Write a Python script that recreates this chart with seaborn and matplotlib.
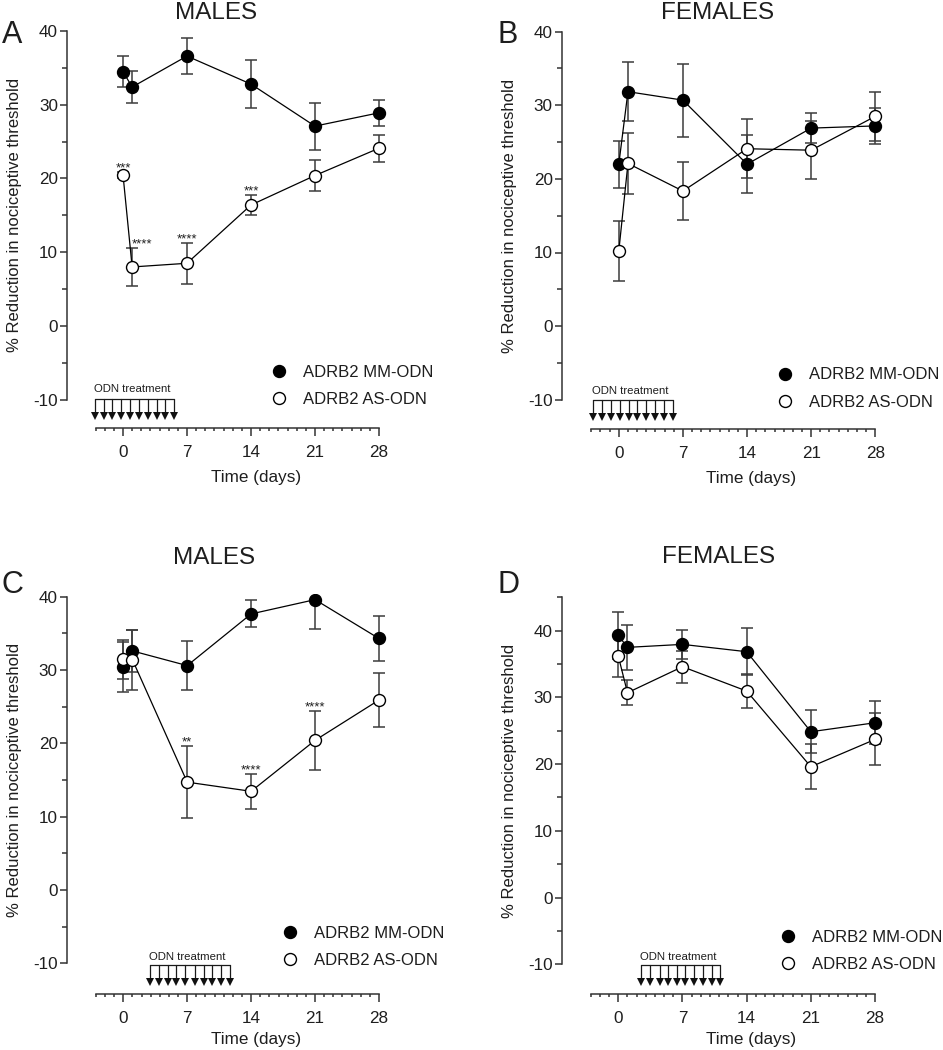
import matplotlib
matplotlib.use("Agg")
import matplotlib.pyplot as plt
import matplotlib.transforms as mtransforms
from matplotlib.lines import Line2D
from matplotlib.ticker import FixedLocator
import pandas as pd
import seaborn as sns

# ---------------- data ----------------
days = [0, 1, 7, 14, 21, 28]
groups = ["ADRB2 MM-ODN", "ADRB2 AS-ODN"]

a_mm = [34.5, 32.4, 36.6, 32.8, 27.1, 28.9]
a_mm_sem = [2.1, 2.2, 2.45, 3.2, 3.2, 1.8]
a_as = [20.5, 8.0, 8.5, 16.4, 20.4, 24.1]
a_as_sem = [0.4, 2.6, 2.8, 1.4, 2.1, 1.8]

b_mm = [22.0, 31.85, 30.7, 22.0, 26.9, 27.2]
b_mm_sem = [3.2, 4.0, 4.95, 3.9, 2.0, 2.5]
b_as = [10.2, 22.1, 18.35, 24.1, 23.9, 28.5]
b_as_sem = [4.05, 4.2, 3.9, 4.0, 3.9, 3.3]

c_mm = [30.4, 32.6, 30.6, 37.65, 39.6, 34.3]
c_mm_sem = [3.4, 2.9, 3.35, 1.85, 4.0, 3.05]
c_as = [31.45, 31.4, 14.7, 13.45, 20.4, 25.9]
c_as_sem = [2.7, 4.1, 4.95, 2.4, 4.0, 3.7]

d_mm = [39.3, 37.5, 37.95, 36.85, 24.85, 26.2]
d_mm_sem = [3.5, 3.4, 2.2, 3.5, 3.2, 3.25]
d_as = [36.2, 30.7, 34.6, 30.95, 19.6, 23.7]
d_as_sem = [3.1, 1.85, 2.4, 2.5, 3.4, 3.9]

# significance marks on AS-ODN series: (day, label)
a_stars = [(0, "***"), (1, "****"), (7, "****"), (14, "***")]
c_stars = [(7, "**"), (14, "****"), (21, "****")]

# ODN treatment injection days (arrows)
odn_a = [-3.1, -2.1, -1.2, -0.2, 0.8, 1.7, 2.7, 3.7, 4.6, 5.6]
odn_b = [-2.8, -1.8, -0.9, 0.1, 1.1, 2.0, 3.0, 4.0, 4.9, 5.9]
odn_c = [2.9, 3.9, 4.9, 5.8, 6.8, 7.8, 8.8, 9.7, 10.7, 11.7]
odn_d = [2.5, 3.5, 4.5, 5.4, 6.4, 7.3, 8.3, 9.2, 10.2, 11.1]

x_major = [0, 7, 14, 21, 28]
x_minor = list(range(-3, 29))
y_major = [-10, 0, 10, 20, 30, 40]

# ---------------- style ----------------
sns.set_theme(style="ticks")
plt.rcParams["font.family"] = ["Liberation Sans", "DejaVu Sans"]
plt.rcParams["axes.unicode_minus"] = False

W, H = 943, 1050
fig = plt.figure(figsize=(W / 100, H / 100), dpi=100)

TXT = "#1e1e1e"
SPN = "#333333"
ECOL = "#3c3c3c"


def fy(py):
    return 1 - py / H


def make_axes(left, top, right, bottom, x0, ppd, yref_px, ppu):
    ax = fig.add_axes([left / W, 1 - bottom / H, (right - left) / W, (bottom - top) / H])
    ax.set_xlim((left - x0) / ppd, (right - x0) / ppd)
    ax.set_ylim(40 - (bottom - yref_px) / ppu, 40 + (yref_px - top) / ppu)
    ax._px = (right - left, bottom - top)
    return ax


def draw_panel(ax, mm, mm_sem, as_, as_sem, ytop_spine, y_minor, xlabelpad):
    ax.errorbar(days, mm, yerr=mm_sem, fmt="none", ecolor=ECOL, elinewidth=1.1,
                capsize=4.3, capthick=1.1, zorder=2)
    ax.errorbar(days, as_, yerr=as_sem, fmt="none", ecolor=ECOL, elinewidth=1.1,
                capsize=4.3, capthick=1.1, zorder=2)
    df = pd.DataFrame({"day": days + days, "value": mm + as_,
                       "group": [groups[0]] * len(days) + [groups[1]] * len(days)})
    sns.lineplot(data=df[df.group == groups[0]], x="day", y="value", estimator=None,
                 color="black", lw=0.9, marker="o", markersize=8.6,
                 markerfacecolor="black", markeredgecolor="black", markeredgewidth=1.0,
                 ax=ax, legend=False, zorder=3)
    sns.lineplot(data=df[df.group == groups[1]], x="day", y="value", estimator=None,
                 color="black", lw=0.9, marker="o", markersize=8.6,
                 markerfacecolor="white", markeredgecolor="black", markeredgewidth=1.0,
                 ax=ax, legend=False, zorder=4)

    sns.despine(ax=ax)
    for s in ("left", "bottom"):
        ax.spines[s].set_linewidth(1.1)
        ax.spines[s].set_color(SPN)
    ax.spines["left"].set_bounds(-10, ytop_spine)
    ax.spines["bottom"].set_bounds(-3, 28)

    ax.xaxis.set_major_locator(FixedLocator(x_major))
    ax.xaxis.set_minor_locator(FixedLocator(x_minor))
    ax.yaxis.set_major_locator(FixedLocator(y_major))
    ax.yaxis.set_minor_locator(FixedLocator(y_minor))
    ax.set_xticklabels([str(v) for v in x_major])
    ax.set_yticklabels([str(v) for v in y_major])
    ax.tick_params(which="both", color=SPN, width=1.1, labelsize=12.3, labelcolor=TXT)
    ax.tick_params(axis="x", which="major", length=5.5, pad=6.5)
    ax.tick_params(axis="x", which="minor", length=2.5)
    ax.tick_params(axis="y", which="major", length=5.0, pad=1.5)
    ax.tick_params(axis="y", which="minor", length=3.6)

    ax.set_xlabel("Time (days)", fontsize=12.3, color=TXT, labelpad=xlabelpad)
    ax.set_ylabel("% Reduction in nociceptive threshold", fontsize=12, color=TXT)
    wpx, hpx = ax._px
    y0, y1 = ax.get_ylim()
    yc = ((-10 + ytop_spine) / 2 - y0) / (y1 - y0)
    ax.yaxis.set_label_coords(-45 / wpx, yc)
    ax.grid(False)


def odn_bracket(ax, xs, text_px):
    wpx, hpx = ax._px
    tr = mtransforms.blended_transform_factory(ax.transData, ax.transAxes)
    y_line = 29 / hpx
    y_tri_top = 15.5 / hpx
    y_tri = 12.3 / hpx
    ax.plot([xs[0], xs[-1]], [y_line, y_line], transform=tr, color="#1a1a1a",
            lw=0.9, clip_on=False, zorder=5)
    for x in xs:
        ax.plot([x, x], [y_line, y_tri_top], transform=tr, color="#1a1a1a",
                lw=0.9, clip_on=False, zorder=5)
    ax.plot(xs, [y_tri] * len(xs), transform=tr, ls="none", marker="v", ms=6.4,
            color="#111111", mew=0, clip_on=False, zorder=5)
    ax.text(xs[0] - 0.1, text_px / hpx, "ODN treatment", transform=tr, ha="left",
            va="baseline", fontsize=8.2, color=TXT)


def stars(ax, marks, vals, sems, first_left=False):
    for d, lab in marks:
        k = days.index(d)
        ha = "left" if (first_left and d == 1) else "center"
        ax.annotate(lab, xy=(d, vals[k] + sems[k]), xytext=(0, 0.5),
                    textcoords="offset points", ha=ha, va="baseline",
                    fontsize=9.5, color=TXT)


def legend(ax, marker_x, center_y):
    handles = [
        Line2D([], [], ls="none", marker="o", ms=8.6, mfc="black", mec="black", mew=1.0),
        Line2D([], [], ls="none", marker="o", ms=8.6, mfc="white", mec="black", mew=1.0),
    ]
    leg = ax.legend(handles, groups, loc="center left",
                    bbox_to_anchor=((marker_x - 8.3) / W, fy(center_y)),
                    bbox_transform=fig.transFigure, frameon=False, fontsize=12,
                    handlelength=1.0, handletextpad=0.94, labelspacing=0.73,
                    borderpad=0, borderaxespad=0)
    for t in leg.get_texts():
        t.set_color(TXT)


minor_std = [-5, 5, 15, 25, 35]
minor_d = [-5, 5, 15, 25, 35, 45]

# Panel A
axA = make_axes(67, 28, 445, 428, 123, 9.14, 31, 7.374)
draw_panel(axA, a_mm, a_mm_sem, a_as, a_as_sem, 40, minor_std, 7.5)
stars(axA, a_stars, a_as, a_as_sem, first_left=True)
odn_bracket(axA, odn_a, 35.5)
legend(axA, 279, 385.9)

# Panel B
axB = make_axes(561.7, 28.7, 940, 429, 618.8, 9.16, 31.7, 7.36)
draw_panel(axB, b_mm, b_mm_sem, b_as, b_as_sem, 40, minor_std, 7.5)
odn_bracket(axB, odn_b, 35.5)
legend(axB, 785, 388.5)

# Panel C
axC = make_axes(66.7, 593.7, 445, 994.3, 123.3, 9.13, 596.7, 7.33)
draw_panel(axC, c_mm, c_mm_sem, c_as, c_as_sem, 40, minor_std, 4.5)
stars(axC, c_stars, c_as, c_as_sem)
odn_bracket(axC, odn_c, 34.5)
legend(axC, 289.5, 946.7)

# Panel D
axD = make_axes(561.7, 593.7, 940, 994.3, 618.3, 9.17, 630.7, 6.67)
draw_panel(axD, d_mm, d_mm_sem, d_as, d_as_sem, 45, minor_d, 4.5)
odn_bracket(axD, odn_d, 34.5)
legend(axD, 788.3, 950.8)

# Titles and panel letters
fig.text(215.8 / W, fy(19), "MALES", ha="center", va="baseline", fontsize=17.5, color=TXT)
fig.text(717.8 / W, fy(19), "FEMALES", ha="center", va="baseline", fontsize=17.5, color=TXT)
fig.text(213.7 / W, fy(563.5), "MALES", ha="center", va="baseline", fontsize=17.5, color=TXT)
fig.text(718.3 / W, fy(563), "FEMALES", ha="center", va="baseline", fontsize=17.5, color=TXT)

fig.text(11.7 / W, fy(43.5), "A", ha="center", va="baseline", fontsize=22, color=TXT)
fig.text(508 / W, fy(43.5), "B", ha="center", va="baseline", fontsize=22, color=TXT)
fig.text(12 / W, fy(593), "C", ha="center", va="baseline", fontsize=22, color=TXT)
fig.text(508 / W, fy(593), "D", ha="center", va="baseline", fontsize=22, color=TXT)

fig.savefig("out.png", dpi=100)
